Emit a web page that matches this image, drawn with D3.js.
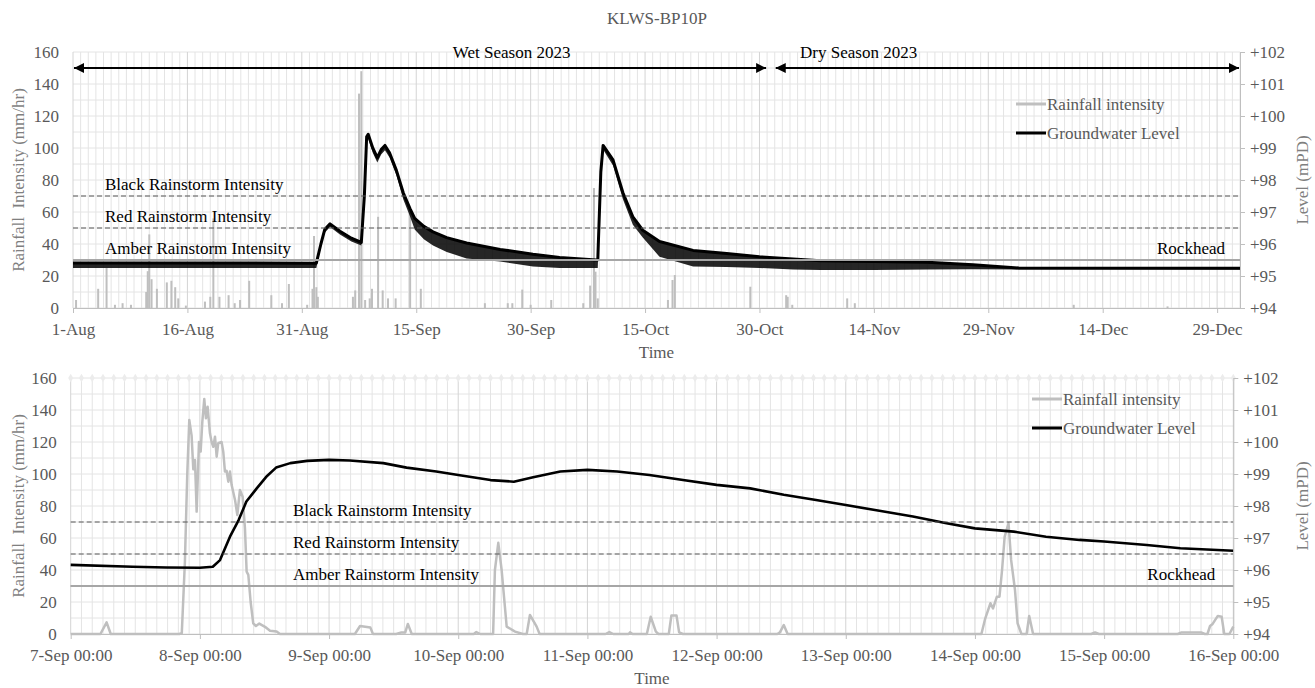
<!DOCTYPE html>
<html>
<head>
<meta charset="utf-8">
<script src="https://cdn.jsdelivr.net/npm/d3@7"></script>
<style>
  body { margin: 0; background: #fff; }
</style>
</head>
<body>
<svg id="chart" width="1315" height="688"></svg>
<script>
// ---------- data ----------
// top panel, days after 1-Aug-2023
const gwTopDay = [0, 31.9, 32.5, 33, 33.7, 35, 36.5, 37.8, 38.2, 38.5, 38.7, 39.3, 39.9, 40.4, 40.9, 41.5, 42.4, 43.3, 44.2, 44.8, 46, 47.2, 49, 51.6, 56, 60.3, 63.8, 68.6, 68.8, 69.2, 69.5, 70.8, 72.1, 73.4, 74.7, 76.9, 81.3, 85.7, 90, 94.4, 98, 105, 112, 118, 124, 153];
const gwTopLevel = [95.41, 95.40, 96.00, 96.45, 96.63, 96.40, 96.18, 96.05, 97.50, 99.35, 99.43, 99.00, 98.70, 98.95, 99.08, 98.85, 98.30, 97.60, 97.10, 96.80, 96.55, 96.38, 96.20, 96.03, 95.83, 95.68, 95.58, 95.50, 95.50, 98.25, 99.08, 98.63, 97.60, 96.85, 96.43, 96.08, 95.80, 95.70, 95.60, 95.53, 95.48, 95.45, 95.43, 95.35, 95.25, 95.24];
// lowest readings (downward spikes) around each point
const gwTopLow = [95.25, 95.25, 95.90, 96.35, 96.53, 96.30, 96.08, 95.95, 97.40, 99.20, 99.30, 98.85, 98.55, 98.80, 98.93, 98.70, 98.15, 97.40, 96.85, 96.45, 96.15, 95.95, 95.75, 95.55, 95.45, 95.30, 95.25, 95.25, 95.25, 98.15, 98.95, 98.45, 97.40, 96.60, 96.20, 95.60, 95.30, 95.28, 95.25, 95.20, 95.19, 95.19, 95.20, 95.21, 95.20, 95.20];

const rainTopDay = [0.4, 3.3, 4.4, 5.5, 6.5, 7.6, 9.6, 9.8, 10, 10.3, 11, 12.3, 12.9, 13.4, 13.8, 14.8, 17.3, 18, 18.4, 19.2, 20.4, 21.2, 21.9, 23.1, 26, 27.4, 28.3, 30.7, 31.4, 31.6, 31.9, 32.1, 36.7, 37.0, 37.5, 37.8, 38.3, 38.9, 39.2, 40, 40.6, 41.3, 42.3, 44.2, 45.6, 54, 57, 57.6, 58.9, 60, 62.7, 66.9, 67.8, 68.3, 68.5, 68.8, 78, 78.6, 78.9, 88.8, 93.5, 93.7, 94.3, 101.5, 102.5, 131.2, 143.5];
const rainTopValue = [5, 12, 25, 2, 3, 2, 10, 23, 46, 18, 12, 16, 17, 13, 6, 1.5, 4, 7, 56, 7, 8, 3, 5, 17, 8, 3, 15, 2, 12, 45, 13, 7, 7, 11, 134, 148, 5, 6, 12, 57, 11, 6, 6, 60, 12, 3, 3, 3, 11.5, 2, 5, 3, 14, 75, 22.7, 6, 5, 17.5, 20.6, 13.3, 8, 7, 2, 6, 3, 2, 1];

// bottom panel, days after 7-Sep-2023 00:00
const gwBotDay = [0, 0.48, 0.74, 1.0, 1.10, 1.156, 1.233, 1.30, 1.36, 1.44, 1.52, 1.59, 1.70, 1.83, 2.0, 2.16, 2.42, 2.6, 2.83, 3.0, 3.25, 3.43, 3.58, 3.79, 4.0, 4.23, 4.48, 4.74, 5.0, 5.26, 5.52, 5.77, 6.0, 6.26, 6.52, 6.78, 7.0, 7.3, 7.55, 7.81, 8.0, 8.33, 8.59, 9.0];
const gwBotLevel = [96.16, 96.10, 96.08, 96.07, 96.10, 96.31, 97.04, 97.56, 98.14, 98.55, 98.94, 99.20, 99.34, 99.41, 99.44, 99.42, 99.34, 99.20, 99.08, 98.97, 98.81, 98.76, 98.90, 99.08, 99.13, 99.08, 98.97, 98.81, 98.66, 98.55, 98.35, 98.19, 98.03, 97.85, 97.67, 97.46, 97.30, 97.20, 97.04, 96.94, 96.89, 96.78, 96.68, 96.60];

const rainBotDay = [0, 0.23, 0.278, 0.31, 0.84, 0.86, 0.884, 0.902, 0.918, 0.936, 0.949, 0.962, 0.975, 0.993, 1.006, 1.019, 1.034, 1.047, 1.06, 1.078, 1.091, 1.104, 1.117, 1.13, 1.142, 1.168, 1.181, 1.194, 1.207, 1.22, 1.233, 1.246, 1.272, 1.29, 1.31, 1.331, 1.349, 1.362, 1.375, 1.393, 1.413, 1.434, 1.46, 1.504, 1.543, 1.594, 1.62, 2.2, 2.24, 2.28, 2.32, 2.34, 2.52, 2.56, 2.59, 2.61, 2.64, 3.12, 3.14, 3.17, 3.27, 3.284, 3.31, 3.336, 3.375, 3.44, 3.5, 3.53, 3.555, 3.607, 3.63, 4.14, 4.17, 4.2, 4.32, 4.33, 4.35, 4.46, 4.49, 4.53, 4.55, 4.63, 4.65, 4.69, 4.71, 4.74, 5.47, 5.49, 5.52, 5.55, 7.05, 7.08, 7.12, 7.14, 7.17, 7.19, 7.21, 7.23, 7.26, 7.28, 7.31, 7.33, 7.36, 7.40, 7.42, 7.45, 7.9, 7.93, 7.96, 8.57, 8.6, 8.75, 8.78, 8.8, 8.82, 8.84, 8.88, 8.91, 8.93, 8.97, 9.0];
const rainBotValue = [0, 0, 7.3, 0, 0, 0.5, 45, 99, 133.8, 124, 103, 108.8, 76.5, 120, 114, 132.7, 146.9, 134.8, 142, 125.4, 120, 117, 123.3, 110.8, 119.2, 120, 114, 101.5, 102, 95.2, 101.5, 93.1, 83.8, 74.4, 90, 85.8, 66, 39, 37, 20, 6.7, 5, 6.5, 4.5, 2, 1.5, 0, 0, 5, 4.5, 4, 0, 0, 1, 1, 6.3, 0, 0, 1.2, 0, 0, 40, 57, 40, 4.6, 1.5, 0, 0, 11.9, 4.6, 0, 0, 1.2, 0, 0, 1, 0, 0, 10.8, 1.5, 0, 0, 11.5, 11.5, 1, 0, 0, 1, 5.6, 0, 0, 9.8, 19.2, 16, 23.3, 23.3, 40, 60.8, 69.2, 46.3, 27.5, 6.7, 0, 0, 11.3, 0, 0, 1, 0, 0, 1, 1, 0, 0, 5, 6.3, 11.3, 10.8, 0, 0, 4.6];

// threshold lines (mm/hr) and rockhead (mPD)
const thresholdNames = ["Black Rainstorm Intensity", "Red Rainstorm Intensity", "Amber Rainstorm Intensity"];
const thresholdValues = [70, 50, 30];
const rockheadLevel = 95.5;

const seasonNames = ["Wet Season 2023", "Dry Season 2023"];
const seasonStart = ["2023-08-01", "2023-11-01"];
const seasonEnd = ["2023-10-31", "2024-01-01"];

const rainTicks = d3.range(0, 161, 20);
const levelTicks = d3.range(94, 103, 1);

// ---------- drawing ----------
const FONT = '"Liberation Serif", "Times New Roman", Times, serif';
const svg = d3.select("#chart");
const parseDay = d3.timeParse("%Y-%m-%d");
const addDays = (base, d) => new Date(base.getTime() + d * 864e5);

const col = {
  grid: "#e4e4e4", gridMajor: "#d4d4d4", axis: "#bfbfbf",
  tickText: "#595959", title: "#7f7f7f", rain: "#bfbfbf", rock: "#a6a6a6"
};

svg.append("text").attr("x", 657).attr("y", 24).attr("text-anchor", "middle")
  .attr("font-size", 17).attr("fill", col.tickText).text("KLWS-BP10P");

function drawPanel(o) {
  const g = svg.append("g");
  const x = d3.scaleTime([o.start, o.end], [o.left, o.right]);
  const yL = d3.scaleLinear([0, 160], [o.bottom, o.top]);
  const yR = d3.scaleLinear([94, 102], [o.bottom, o.top]);

  // grid
  g.append("g").selectAll("line").data(d3.range(0, 161, 10)).join("line")
    .attr("x1", o.left).attr("x2", o.right)
    .attr("y1", d => yL(d)).attr("y2", d => yL(d))
    .attr("stroke", col.grid).attr("stroke-width", 1);
  g.append("g").selectAll("line").data(o.gridTimes).join("line")
    .attr("x1", d => x(d)).attr("x2", d => x(d))
    .attr("y1", o.top).attr("y2", o.bottom)
    .attr("stroke", d => o.isMajor(d) ? col.gridMajor : col.grid).attr("stroke-width", 1);

  if (o.diamonds) {
    g.append("g").selectAll("path").data(o.gridTimes).join("path")
      .attr("transform", d => `translate(${x(d)},${o.top})`)
      .attr("d", d3.symbol(d3.symbolDiamond, 22))
      .attr("fill", "#ececec");
  }

  // rainfall
  if (o.rainBars) {
    g.append("g").selectAll("rect").data(o.rainDay).join("rect")
      .attr("x", d => x(addDays(o.start, d)) - 1).attr("width", 2)
      .attr("y", (d, i) => yL(o.rainValue[i]))
      .attr("height", (d, i) => yL(0) - yL(o.rainValue[i]))
      .attr("fill", col.rain);
  } else {
    g.append("path").datum(o.rainDay)
      .attr("fill", "none").attr("stroke", col.rain).attr("stroke-width", 2.5)
      .attr("stroke-linejoin", "round")
      .attr("d", d3.line().x(d => x(addDays(o.start, d))).y((d, i) => yL(o.rainValue[i])));
  }

  // groundwater
  if (o.gwLow) {
    g.append("path").datum(o.gwDay)
      .attr("fill", "#000").attr("fill-opacity", 0.85)
      .attr("d", d3.area().x(d => x(addDays(o.start, d)))
        .y0((d, i) => yR(o.gwLow[i])).y1((d, i) => yR(o.gwLevel[i])));
  }
  g.append("path").datum(o.gwDay)
    .attr("fill", "none").attr("stroke", "#000").attr("stroke-width", o.gwWidth)
    .attr("stroke-linejoin", "round")
    .attr("d", d3.line().x(d => x(addDays(o.start, d))).y((d, i) => yR(o.gwLevel[i])));

  // thresholds
  thresholdValues.forEach((v, i) => {
    const amber = i === 2;
    g.append("line").attr("x1", o.left).attr("x2", o.right)
      .attr("y1", yL(v)).attr("y2", yL(v))
      .attr("stroke", amber ? col.rock : "#595959")
      .attr("stroke-width", amber ? 2 : 1)
      .attr("stroke-dasharray", amber ? null : "5,3");
    g.append("text").attr("x", o.labelX).attr("y", yL(v) - 6)
      .attr("font-size", 17).attr("fill", "#000").text(thresholdNames[i]);
  });
  g.append("line").attr("x1", o.left).attr("x2", o.right)
    .attr("y1", yR(rockheadLevel)).attr("y2", yR(rockheadLevel))
    .attr("stroke", col.rock).attr("stroke-width", 2);
  g.append("text").attr("x", o.right - o.rockPad).attr("y", yR(rockheadLevel) - 6)
    .attr("text-anchor", "end").attr("font-size", 17).attr("fill", "#000").text("Rockhead");

  // axes
  const xAxis = g.append("g").attr("transform", `translate(0,${o.bottom})`)
    .call(d3.axisBottom(x).tickValues(o.tickTimes).tickFormat(d3.timeFormat(o.tickFmt))
      .tickSize(5).tickSizeOuter(0).tickPadding(10));
  const yAxisL = g.append("g").attr("transform", `translate(${o.left},0)`)
    .call(d3.axisLeft(yL).tickValues(rainTicks).tickSize(0).tickPadding(14));
  yAxisL.select(".domain").remove();
  const yAxisR = g.append("g").attr("transform", `translate(${o.right},0)`)
    .call(d3.axisRight(yR).tickValues(levelTicks).tickFormat(d => "+" + d)
      .tickSize(5).tickSizeOuter(0).tickPadding(5));
  [xAxis, yAxisL, yAxisR].forEach(a => {
    a.select(".domain").attr("stroke", col.axis);
    a.selectAll(".tick line").attr("stroke", col.axis);
    a.selectAll("text").attr("font-size", 17).attr("fill", col.tickText);
  });

  const cy = (o.top + o.bottom) / 2;
  g.append("text").attr("transform", `translate(24,${cy}) rotate(-90)`)
    .attr("text-anchor", "middle").attr("font-size", 17).attr("fill", col.title)
    .style("white-space", "pre")
    .text("Rainfall  Intensity (mm/hr)");
  g.append("text").attr("transform", `translate(1308,${cy}) rotate(-90)`)
    .attr("text-anchor", "middle").attr("font-size", 17).attr("fill", col.title)
    .text("Level (mPD)");
  g.append("text").attr("x", (o.left + o.right) / 2).attr("y", o.bottom + 50)
    .attr("text-anchor", "middle").attr("font-size", 17).attr("fill", col.tickText)
    .text("Time");

  // legend
  const lg = g.append("g");
  [["Rainfall intensity", col.rain], ["Groundwater Level", "#000"]].forEach(([name, c], i) => {
    const ly = o.legendY + i * 29;
    lg.append("line").attr("x1", o.legendX).attr("x2", o.legendX + 30)
      .attr("y1", ly).attr("y2", ly).attr("stroke", c).attr("stroke-width", 3);
    lg.append("text").attr("x", o.legendX + 31).attr("y", ly).attr("dy", "0.35em")
      .attr("font-size", 17).attr("fill", col.tickText).text(name);
  });

  return { g, x, yL };
}

// top panel
const topStart = parseDay("2023-08-01"), topEnd = parseDay("2024-01-01");
const topPanel = drawPanel({
  left: 73, right: 1240, top: 52, bottom: 308,
  start: topStart, end: topEnd,
  gridTimes: d3.timeDay.range(topStart, d3.timeDay.offset(topEnd, 1)),
  isMajor: d => Math.round((d - topStart) / 864e5) % 15 === 0,
  tickTimes: d3.range(0, 151, 15).map(d => d3.timeDay.offset(topStart, d)),
  tickFmt: "%-d-%b",
  rainBars: true, rainDay: rainTopDay, rainValue: rainTopValue,
  gwDay: gwTopDay, gwLevel: gwTopLevel, gwLow: gwTopLow, gwWidth: 3,
  labelX: 105, rockPad: 15,
  legendX: 1016, legendY: 104
});

// season arrows
const defs = svg.append("defs");
["arrEnd", "arrStart"].forEach((id, i) => {
  defs.append("marker").attr("id", id).attr("viewBox", "0 0 10 10")
    .attr("refX", i ? 0 : 10).attr("refY", 5).attr("markerWidth", 5).attr("markerHeight", 5)
    .attr("markerUnits", "strokeWidth").attr("orient", "auto")
    .append("path").attr("d", i ? "M10,0L0,5L10,10z" : "M0,0L10,5L0,10z").attr("fill", "#000");
});
const seasonLabelDay = [57.5, 103];
seasonNames.forEach((name, i) => {
  const x0 = topPanel.x(parseDay(seasonStart[i])), x1 = topPanel.x(parseDay(seasonEnd[i]));
  topPanel.g.append("line").attr("x1", x0 + 1).attr("x2", x1 - 1)
    .attr("y1", topPanel.yL(150)).attr("y2", topPanel.yL(150))
    .attr("stroke", "#000").attr("stroke-width", 2)
    .attr("marker-start", "url(#arrStart)").attr("marker-end", "url(#arrEnd)");
  topPanel.g.append("text").attr("x", topPanel.x(addDays(topStart, seasonLabelDay[i])))
    .attr("y", topPanel.yL(150) - 10).attr("text-anchor", "middle")
    .attr("font-size", 17).attr("fill", "#000").text(name);
});

// bottom panel
const botStart = parseDay("2023-09-07"), botEnd = parseDay("2023-09-16");
drawPanel({
  left: 70.7, right: 1233.3, top: 378, bottom: 634,
  start: botStart, end: botEnd,
  gridTimes: d3.timeHour.every(2).range(botStart, d3.timeHour.offset(botEnd, 1)),
  isMajor: d => d.getHours() === 0,
  tickTimes: d3.timeDay.range(botStart, d3.timeDay.offset(botEnd, 1)),
  tickFmt: "%-d-%b %H:%M",
  rainBars: false, rainDay: rainBotDay, rainValue: rainBotValue,
  gwDay: gwBotDay, gwLevel: gwBotLevel, gwLow: null, gwWidth: 2.6,
  labelX: 293, rockPad: 18, diamonds: true,
  legendX: 1032, legendY: 399
});

// one serif face for every text, set inline so nothing overrides it
svg.selectAll("text").style("font-family", FONT);
</script>
</body>
</html>
